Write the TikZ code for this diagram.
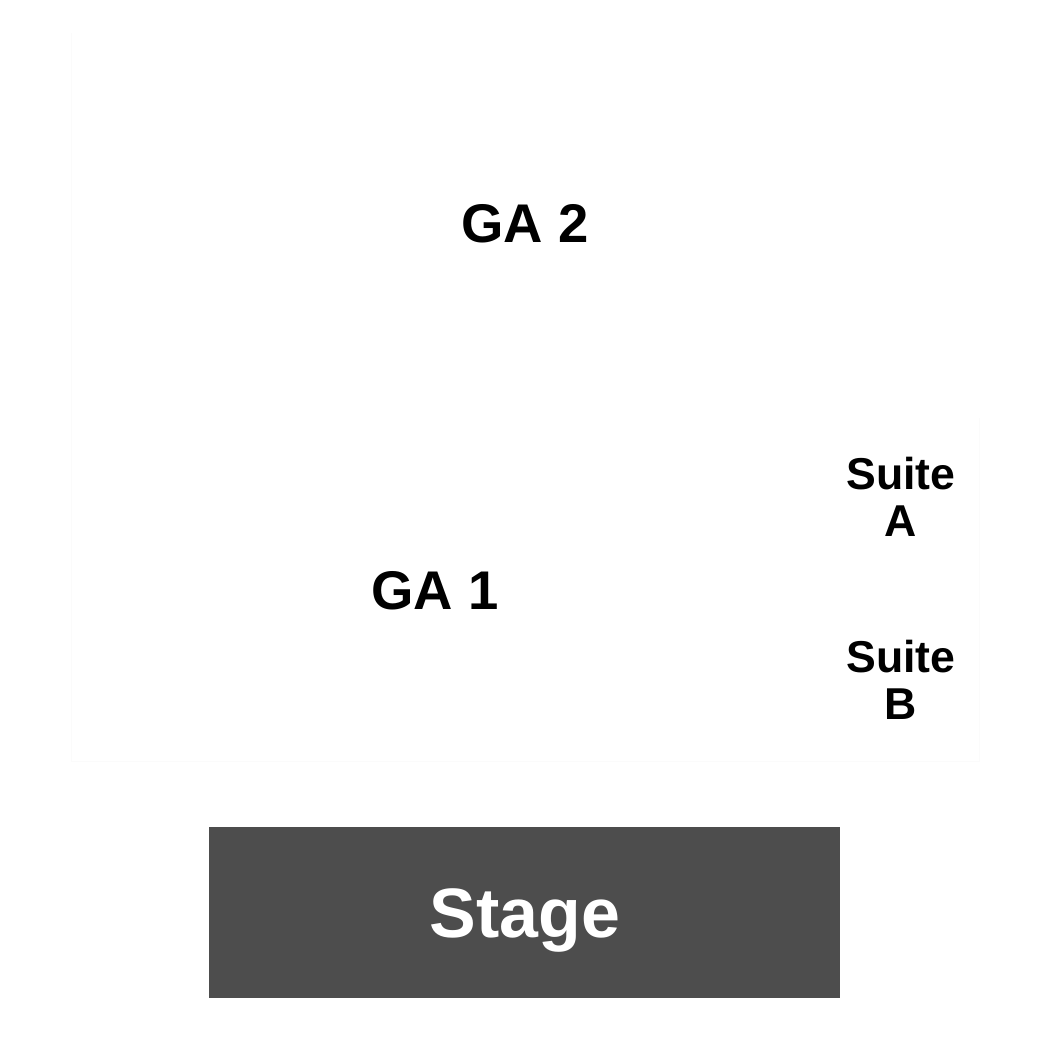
\documentclass[tikz,border=0pt]{standalone}
\usepackage{fontspec}
\setmainfont{Liberation Sans}
\definecolor{stagegray}{HTML}{4D4D4D}
\definecolor{faint}{HTML}{FBFBFB}

\begin{document}
\begin{tikzpicture}[x=0.02cm,y=-0.02cm,
  area/.style={font=\bfseries\fontsize{31}{36}\selectfont, anchor=base, inner sep=0pt},
  suite/.style={font=\bfseries\fontsize{25.4}{26.7}\selectfont, align=center, inner sep=0pt},
  outline/.style={draw=faint, line width=0.4pt}]
\useasboundingbox (0,0) rectangle (1050,1050);
% faint section outlines
\coordinate (TL) at (71,33);
\coordinate (BL) at (71,761);
\coordinate (BR) at (979,761);
\coordinate (SA) at (979,418);
\draw[outline] (TL) -- (BL) -- (BR) -- (SA);
% stage
\fill[stagegray] (209,827) rectangle (840,998);
\node[area, white, font=\bfseries\fontsize{39.8}{44}\selectfont] (stage) at (525,937) {Stage};
% general admission
\node[area] (ga2) at (525,243) {GA 2};
\node[area] (ga1) at (435,609) {GA 1};
% suites
\node[suite] (suiteA) at (901,497) {Suite\\A};
\node[suite] (suiteB) at (901,680) {Suite\\B};
\end{tikzpicture}
\end{document}
